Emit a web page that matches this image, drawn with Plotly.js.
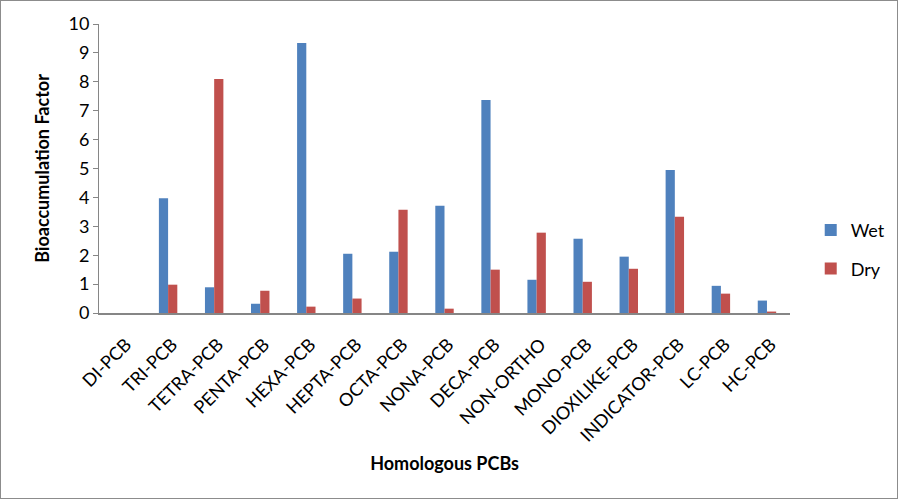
<!DOCTYPE html>
<html>
<head>
<meta charset="utf-8">
<script src="https://cdn.plot.ly/plotly-3.0.1.min.js"></script>
<style>
  html, body { margin: 0; padding: 0; background: #fff; }
  #chart { width: 896px; height: 497px; border: 1px solid #8c8c8c; }
</style>
</head>
<body>
<div id="chart"></div>
<script>
const categories = ['DI-PCB', 'TRI-PCB', 'TETRA-PCB', 'PENTA-PCB', 'HEXA-PCB', 'HEPTA-PCB', 'OCTA-PCB',
    'NONA-PCB', 'DECA-PCB', 'NON-ORTHO', 'MONO-PCB', 'DIOXILIKE-PCB', 'INDICATOR-PCB', 'LC-PCB', 'HC-PCB']
const wet = [0, 3.97, 0.89, 0.32, 9.34, 2.05, 2.12, 3.71, 7.37, 1.15, 2.57, 1.95, 4.95, 0.94, 0.43]
const dry = [0, 0.98, 8.10, 0.77, 0.22, 0.50, 3.57, 0.15, 1.50, 2.78, 1.08, 1.53, 3.33, 0.67, 0.05]

const font = 'Lato, "Open Sans", sans-serif'

var data = [
    {
        type: 'bar',
        name: 'Wet',
        legendgroup: 'wet',
        x: categories,
        y: wet,
        marker: { color: '#4F81BD' },
    },
    {
        type: 'bar',
        name: 'Dry',
        legendgroup: 'dry',
        x: categories,
        y: dry,
        marker: { color: '#C0504D' },
    },
]

var layout = {
    width: 896,
    height: 497,
    margin: { l: 98, r: 107, t: 23, b: 185, autoexpand: false },
    paper_bgcolor: '#fff',
    plot_bgcolor: '#fff',
    font: { family: font, color: '#000', size: 18 },
    barmode: 'group',
    bargap: 0.6,
    bargroupgap: 0,
    showlegend: true,
    legend: {
        x: 1.03, y: 0.22, yanchor: 'middle', xanchor: 'left',
        font: { size: 18 },
        tracegroupgap: 12,
        itemwidth: 20,
    },
    xaxis: {
        tickangle: -45,
        tickfont: { size: 18 },
        ticklabelstandoff: 12,
        ticklabelshift: 4,
        showline: true,
        linecolor: '#868686',
        linewidth: 2,
        ticks: '',
        automargin: false,
        title: { text: 'Homologous PCBs', font: { size: 18, weight: 'bold' }, standoff: 12 },
    },
    yaxis: {
        range: [0, 10],
        dtick: 1,
        showgrid: false,
        zeroline: false,
        showline: true,
        linecolor: '#868686',
        linewidth: 1,
        ticks: 'outside',
        ticklen: 5,
        tickcolor: '#868686',
        tickfont: { size: 18 },
        automargin: false,
        title: { text: 'Bioaccumulation Factor', font: { size: 18, weight: 'bold' }, standoff: 14 },
    },
}

Plotly.newPlot('chart', data, layout, { displayModeBar: false, staticPlot: true })
</script>
</body>
</html>
